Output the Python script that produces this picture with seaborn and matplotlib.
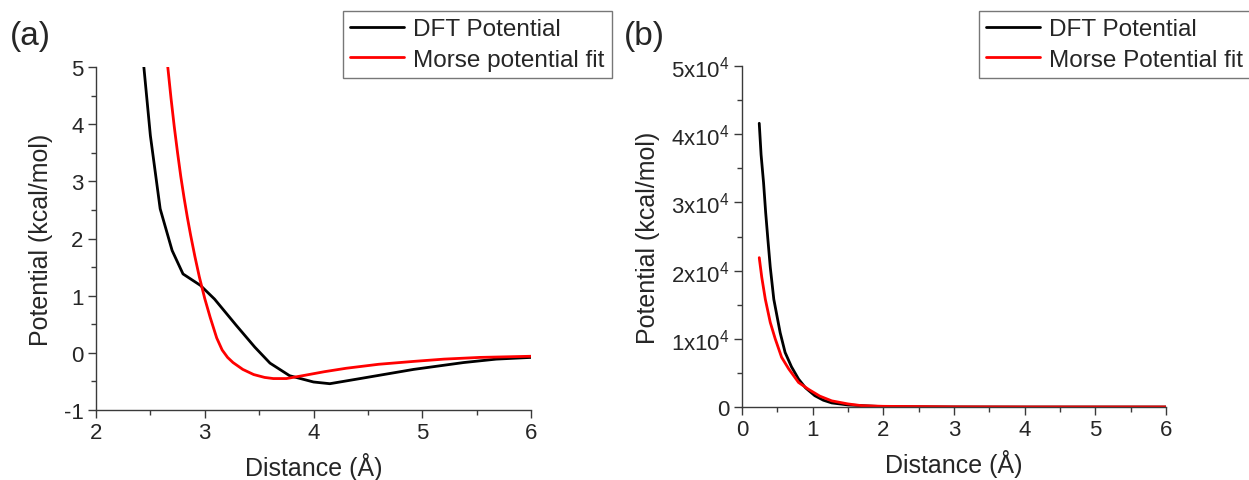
import matplotlib
matplotlib.use("Agg")
import matplotlib.pyplot as plt
import seaborn as sns
import pandas as pd
from matplotlib.ticker import MultipleLocator

# ---------------- data ----------------
# Panel (a)
a_dft_x = [2.44, 2.50, 2.59, 2.70, 2.80, 2.96, 3.09, 3.29, 3.46, 3.60, 3.78, 4.00, 4.15, 4.46, 4.92, 5.38, 5.68, 6.00]
a_dft_y = [5.00, 3.80, 2.52, 1.79, 1.38, 1.18, 0.94, 0.48, 0.10, -0.18, -0.40, -0.51, -0.54, -0.44, -0.29, -0.17, -0.11, -0.08]
a_fit_x = [2.66, 2.69, 2.72, 2.75, 2.78, 2.81, 2.84, 2.87, 2.91, 2.95, 3.00, 3.05, 3.11, 3.16, 3.21, 3.26, 3.35, 3.45,
           3.55, 3.63, 3.75, 3.90, 4.10, 4.30, 4.60, 4.92, 5.20, 5.53, 6.00]
a_fit_y = [5.00, 4.45, 3.95, 3.50, 3.08, 2.71, 2.37, 2.06, 1.68, 1.33, 0.95, 0.62, 0.26, 0.05, -0.08, -0.17, -0.29, -0.38,
           -0.43, -0.45, -0.45, -0.40, -0.33, -0.27, -0.20, -0.15, -0.11, -0.08, -0.06]

# Panel (b)
b_dft_x = [0.244, 0.27, 0.305, 0.335, 0.366, 0.40, 0.45, 0.54, 0.61, 0.70, 0.80, 0.90, 1.03, 1.15, 1.27, 1.50, 2.00, 3.00, 4.00, 5.00, 6.00]
b_dft_y = [41600, 37000, 32900, 28500, 24600, 20500, 15800, 10900, 8000, 5900, 4100, 2800, 1660, 1000, 600, 300, 50, 10, 0, 0, 0]
b_fit_x = [0.244, 0.28, 0.33, 0.40, 0.47, 0.56, 0.66, 0.80, 0.94, 1.10, 1.27, 1.50, 1.69, 2.00, 3.00, 4.00, 5.00, 6.00]
b_fit_y = [21900, 19000, 15800, 12400, 10000, 7300, 5600, 3600, 2600, 1600, 900, 450, 200, 100, 20, 0, 0, 0]

a_labels = ["DFT Potential", "Morse potential fit"]
b_labels = ["DFT Potential", "Morse Potential fit"]
x_label = "Distance (Å)"
y_label = "Potential (kcal/mol)"
b_yticks = [0, 10000, 20000, 30000, 40000, 50000]
b_yticklabels = ["0", "1x10$^4$", "2x10$^4$", "3x10$^4$", "4x10$^4$", "5x10$^4$"]

# ---------------- style ----------------
sns.set_style("ticks")
plt.rcParams["font.family"] = ["Liberation Sans", "DejaVu Sans"]
plt.rcParams["mathtext.default"] = "regular"
plt.rcParams["mathtext.fontset"] = "custom"
plt.rcParams["mathtext.rm"] = "Liberation Sans"
plt.rcParams["axes.unicode_minus"] = False

AX = "#3a3a3a"

fig = plt.figure(figsize=(12.49, 4.81), dpi=100)
ax_a = fig.add_axes([96 / 1249, 1 - 411 / 481, (531 - 96) / 1249, (411 - 68) / 481])
ax_b = fig.add_axes([742 / 1249, 1 - 408 / 481, (1166 - 742) / 1249, (408 - 67) / 481])


def draw(ax, dx, dy, fx, fy, labels):
    df1 = pd.DataFrame({"x": dx, "y": dy})
    df2 = pd.DataFrame({"x": fx, "y": fy})
    sns.lineplot(data=df1, x="x", y="y", ax=ax, color="black", lw=2.0, label=labels[0],
                 sort=False, estimator=None)
    sns.lineplot(data=df2, x="x", y="y", ax=ax, color="#ff0000", lw=2.0, label=labels[1],
                 sort=False, estimator=None)
    for s in ["top", "right"]:
        ax.spines[s].set_visible(False)
    for s in ["left", "bottom"]:
        ax.spines[s].set_color(AX)
        ax.spines[s].set_linewidth(1.0)
    ax.tick_params(which="major", direction="out", length=6, width=1, color=AX,
                   labelsize=16, pad=3)
    ax.tick_params(which="minor", direction="out", length=3.5, width=1, color=AX)
    ax.set_xlabel(x_label, fontsize=18, labelpad=6)
    ax.set_ylabel(y_label, fontsize=18, labelpad=8)


draw(ax_a, a_dft_x, a_dft_y, a_fit_x, a_fit_y, a_labels)
ax_a.set_xlim(2, 6)
ax_a.set_ylim(-1, 5)
ax_a.xaxis.set_major_locator(MultipleLocator(1))
ax_a.xaxis.set_minor_locator(MultipleLocator(0.5))
ax_a.yaxis.set_major_locator(MultipleLocator(1))
ax_a.yaxis.set_minor_locator(MultipleLocator(0.5))

draw(ax_b, b_dft_x, b_dft_y, b_fit_x, b_fit_y, b_labels)
ax_b.set_xlim(0, 6)
ax_b.set_ylim(0, 50000)
ax_b.xaxis.set_major_locator(MultipleLocator(1))
ax_b.xaxis.set_minor_locator(MultipleLocator(0.5))
ax_b.set_yticks(b_yticks)
ax_b.set_yticklabels(b_yticklabels)
ax_b.yaxis.set_minor_locator(MultipleLocator(5000))

for ax, left in [(ax_a, 343 / 1249), (ax_b, 979 / 1249)]:
    ax.get_legend().remove()
    h, l = ax.get_legend_handles_labels()
    leg = fig.legend(h, l, loc="upper left", bbox_to_anchor=(left, 1 - 12 / 481),
                     fontsize=17.5, frameon=True, fancybox=False, handlelength=2.2,
                     handletextpad=0.4, borderpad=0.3, labelspacing=0.35,
                     borderaxespad=0, framealpha=1)
    leg.get_frame().set_edgecolor("#777777")
    leg.get_frame().set_linewidth(1.0)

fig.text(10 / 1249, 1 - 37 / 481, "(a)", fontsize=24, va="center", ha="left")
fig.text(624 / 1249, 1 - 37 / 481, "(b)", fontsize=24, va="center", ha="left")

fig.savefig("out.png", dpi=100, facecolor="white")
